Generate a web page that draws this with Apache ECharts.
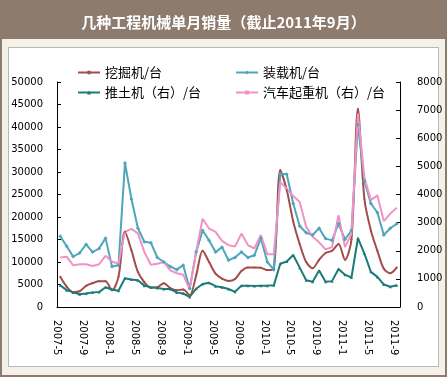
<!DOCTYPE html>
<html>
<head>
<meta charset="utf-8">
<script src="https://cdn.jsdelivr.net/npm/echarts@6/dist/echarts.min.js"></script>
<style>
  html, body { margin: 0; padding: 0; }
  #frame { position: relative; width: 447px; height: 377px; background: #8d7b6d; overflow: hidden; }
  #beige { position: absolute; left: 2px; top: 39px; width: 443px; height: 336px; background: #f4f1e9; }
  #panel { position: absolute; left: 8px; top: 47px; width: 429px; height: 318px; background: #fff; border: 1px solid #b8b8b8; }
  #chart { position: absolute; left: 0; top: 0; width: 447px; height: 377px; }
</style>
</head>
<body>
<div id="frame">
  <div id="beige"></div>
  <div id="panel"></div>
  <div id="chart"></div>
</div>
<script>
    // 月份（2007-5 ~ 2011-9）
    var months = ['2007-5','2007-6','2007-7','2007-8','2007-9','2007-10','2007-11','2007-12',
        '2008-1','2008-2','2008-3','2008-4','2008-5','2008-6','2008-7','2008-8','2008-9','2008-10','2008-11','2008-12',
        '2009-1','2009-2','2009-3','2009-4','2009-5','2009-6','2009-7','2009-8','2009-9','2009-10','2009-11','2009-12',
        '2010-1','2010-2','2010-3','2010-4','2010-5','2010-6','2010-7','2010-8','2010-9','2010-10','2010-11','2010-12',
        '2011-1','2011-2','2011-3','2011-4','2011-5','2011-6','2011-7','2011-8','2011-9'];

    /*左轴*/
    var excavator = [6700,4500,3300,3500,4700,5300,5700,5700,3700,6700,
        16700,12600,7800,5500,4300,4400,5300,4200,3700,3900,
        2600,7000,12500,10000,7400,6300,5800,6200,8000,8800,
        8800,8700,8200,8500,30400,26000,19000,14000,10000,8600,
        10500,12000,12500,14000,10500,15000,44000,24000,17000,12500,
        8500,7500,8800];
    var loader = [15700,13500,11200,12000,13900,12200,13000,15300,9000,9300,
        32000,24000,17500,14500,14300,11000,10000,9000,8300,9300,
        4100,12200,17000,14800,12200,13300,10400,11000,12200,11000,
        11500,15300,10000,8300,29600,29500,23000,18000,16500,16000,
        17500,15200,14800,18500,15000,17000,40500,28000,23000,21000,
        16000,17500,18500];
    /*右轴*/
    var bulldozer = [770,600,520,450,480,520,530,700,620,580,
        1020,980,950,760,700,680,640,640,520,480,
        360,650,820,860,740,700,640,540,760,760,
        750,760,760,770,1540,1620,1850,1400,950,900,
        1300,900,920,1350,1150,1050,2450,1900,1250,1070,
        800,720,770];
    var crane = [1760,1790,1480,1520,1520,1460,1520,1820,1620,1540,
        2670,2780,2620,1950,1500,1540,1600,1300,1200,1150,
        620,1960,3140,2790,2670,2350,2200,2150,2610,2200,
        2080,2560,1880,1880,4440,4200,3950,3730,2850,2500,
        2300,2050,2130,3260,2130,2600,6880,4600,3800,3970,
        3050,3320,3530];

    var names = ['挖掘机/台','装载机/台','推土机（右）/台','汽车起重机（右）/台'];
    var colors = ['#a24d49','#4fa6bb','#1b7b78','#f291c6'];

    // 标签放在刻度（分隔线）上，多一个空位
    var tickLabels = months.concat(['']);

    var numFont = 'DejaVu Sans';
    var cjkFont = 'Noto Sans CJK SC';

    function legendCfg(left, items){
        return {
            orient: 'vertical', left: left, top: 66, padding: 0,
            itemWidth: 22, itemHeight: 5, itemGap: 7,
            data: items,
            textStyle: { fontSize: 13, color: '#000', fontFamily: cjkFont }
        };
    }

    var chart = echarts.init(document.getElementById('chart'));
    chart.setOption({
        color: colors,
        animation: false,
        title: {
            text: '几种工程机械单月销量（截止2011年9月）',
            left: 'center',
            top: 10,
            textStyle: { color: '#fff', fontSize: 15, fontWeight: 'bold', fontFamily: cjkFont }
        },
        legend: [
            legendCfg(77, [names[0], names[2]]),
            legendCfg(235, [names[1], names[3]])
        ],
        grid: { left: 57, right: 47, top: 82, bottom: 70 },
        xAxis: [
            {
                type: 'category',
                data: months,
                boundaryGap: true,
                axisLine: { lineStyle: { color: '#000' } },
                axisTick: { inside: true, length: 4, interval: 0, lineStyle: { color: '#000' } },
                axisLabel: { show: false }
            },
            {
                type: 'category',
                data: tickLabels,
                position: 'bottom',
                boundaryGap: false,
                axisLine: { show: false },
                axisTick: { show: false },
                axisLabel: { interval: 3, rotate: -90, margin: 13, fontSize: 10, color: '#000', fontFamily: numFont }
            }
        ],
        yAxis: [
            {
                type: 'value', min: 0, max: 50000, interval: 5000,
                splitLine: { show: false },
                axisLine: { show: true, lineStyle: { color: '#000' } },
                axisTick: { show: true, inside: true, length: 4, lineStyle: { color: '#000' } },
                axisLabel: { margin: 14, fontSize: 10, color: '#000', fontFamily: numFont,
                    formatter: function(v){ return String(v); } }
            },
            {
                type: 'value', min: 0, max: 8000, interval: 1000,
                position: 'right',
                splitLine: { show: false },
                axisLine: { show: true, lineStyle: { color: '#000' } },
                axisTick: { show: true, inside: true, length: 4, lineStyle: { color: '#000' } },
                axisLabel: { margin: 17, fontSize: 10, color: '#000', fontFamily: numFont,
                    formatter: function(v){ return String(v); } }
            }
        ],
        series: [
            {
                name: names[0], type: 'line', yAxisIndex: 0, data: excavator,
                smooth: 0.3, symbol: 'circle', symbolSize: 2,
                lineStyle: { width: 2 }
            },
            {
                name: names[1], type: 'line', yAxisIndex: 0, data: loader,
                symbol: 'diamond', symbolSize: 4,
                lineStyle: { width: 2 }
            },
            {
                name: names[2], type: 'line', yAxisIndex: 1, data: bulldozer,
                symbol: 'triangle', symbolSize: 3,
                lineStyle: { width: 2 }
            },
            {
                name: names[3], type: 'line', yAxisIndex: 1, data: crane,
                symbol: 'rect', symbolSize: 5,
                lineStyle: { width: 2 }
            }
        ]
    });
</script>
</body>
</html>
